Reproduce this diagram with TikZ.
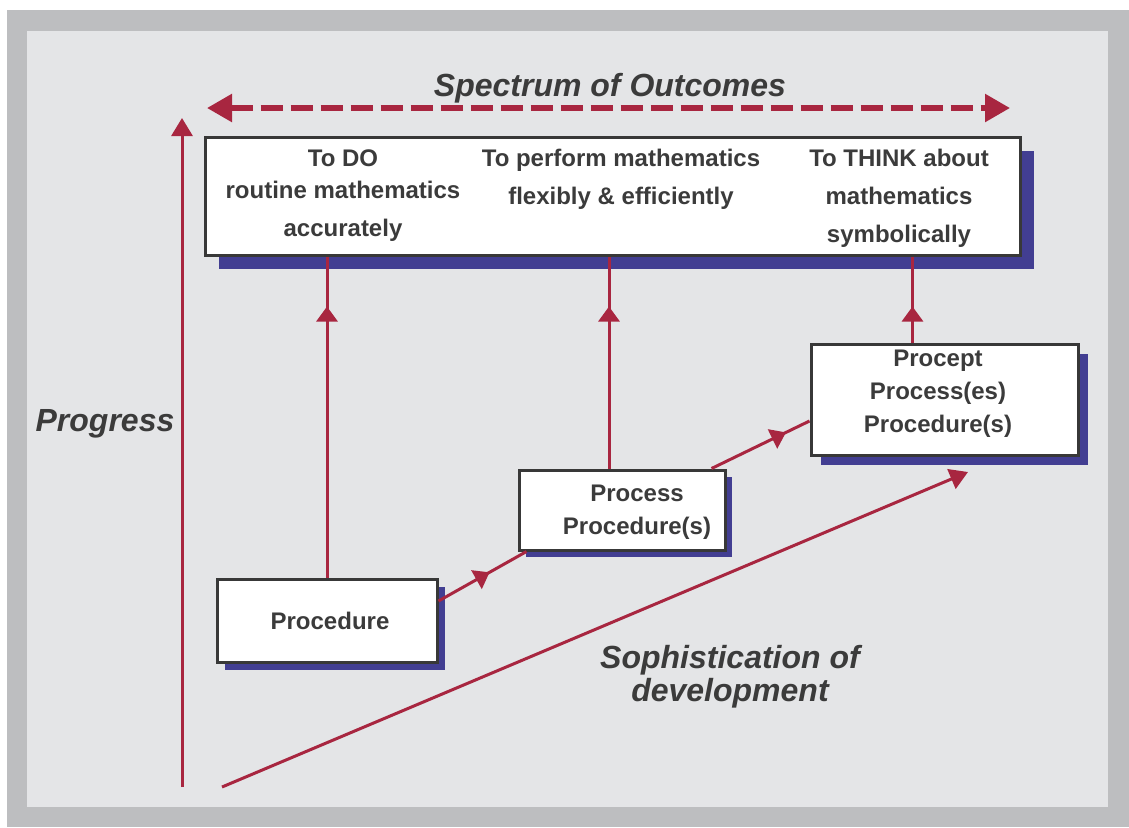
\documentclass[tikz,border=0pt]{standalone}
\usepackage{fontspec}
\setmainfont{Liberation Sans}
\usepackage{tikz}
\usetikzlibrary{arrows.meta, decorations.markings, shadows}
\definecolor{panelouter}{RGB}{189, 190, 192}
\definecolor{panelinner}{RGB}{228, 229, 231}
\definecolor{flowred}{RGB}{168, 38, 64}
\definecolor{shadowblue}{RGB}{66, 62, 146}
\definecolor{boxedge}{RGB}{56, 56, 56}
\definecolor{labelgray}{RGB}{59, 59, 59}

\tikzset{
	stagebox/.style={draw=boxedge, line width=1.5pt, fill=white, inner sep=0pt,
		general shadow={fill=shadowblue, shadow xshift=#1, shadow yshift=-#1}},
	stagebox/.default=4pt,
	stagetext/.style={inner sep=0pt, align=center, text=labelgray,
		font=\fontsize{12}{16.5}\selectfont\bfseries},
	outcometext/.style={anchor=north, inner sep=0pt, align=center, text=labelgray,
		font=\fontsize{12}{19}\selectfont\bfseries},
	axislabel/.style={inner sep=0pt, align=center, text=labelgray,
		font=\fontsize{16}{16.5}\selectfont\bfseries\itshape},
	flow/.style={draw=flowred, line width=1.5pt},
	midtip/.style={postaction={decorate}, decoration={markings,
		mark=at position #1 with {\arrow{Triangle[length=7.5pt, width=10.5pt]}}}},
}

\begin{document}
\begin{tikzpicture}[x=0.5pt, y=-0.5pt]
	\def\W{1129}
	\def\H{827}
	
	% panel
	\useasboundingbox (0,0) rectangle (\W,\H);
	\fill[white] (0,0) rectangle (\W,\H);
	\fill[panelouter] (7,10) rectangle (\W,\H);
	\fill[panelinner] (27,31) rectangle (1108,807);
	
	% outcomes box and its three columns
	\node[stagebox=7pt, minimum width=407.5pt, minimum height=59pt] (outcomes) at (612.5,196) {};
	\node[outcometext] (doText) at (343,149) {To DO\\[-3pt]routine mathematics\\accurately};
	\node[outcometext] (performText) at (621,149) {To perform mathematics\\flexibly \& efficiently};
	\node[outcometext] (thinkText) at (899,149) {To THINK about\\mathematics\\symbolically};
	
	% stages
	\node[stagebox, minimum width=110pt, minimum height=41.5pt] (procedure) at (327,620.5) {};
	\node[stagebox=3.5pt, minimum width=103pt, minimum height=40pt] (process) at (622,510) {};
	\node[stagebox=5pt, minimum width=133.5pt, minimum height=55.5pt] (procept) at (944.5,399.5) {};
	\node[stagetext] (procedureText) at (330,621) {Procedure};
	\node[stagetext] (processText) at (637,512) {Process\\Procedure(s)};
	\node[stagetext] (proceptText) at (938,394) {Procept\\Process(es)\\Procedure(s)};
	
	% links up to the outcomes
	\draw[flow, midtip=-25pt] (procedure.north) -- (procedure.north |- outcomes.south);
	\draw[flow, midtip=-25pt] ([xshift=-6.5pt]process.north) -- ([xshift=-6.5pt]process.north |- outcomes.south);
	\draw[flow, midtip=-25pt] ([xshift=-16pt]procept.north) -- ([xshift=-16pt]procept.north |- outcomes.south);
	
	% links between stages
	\draw[flow, midtip=0.58] ([yshift=9.75pt]procedure.east) -- ([xshift=4.5pt]process.south west);
	\draw[flow, midtip=0.76] ([xshift=-7.5pt]process.north east) -- ([yshift=-10.75pt]procept.west);
	
	% axes
	\coordinate (progFoot) at (182,787);
	\coordinate (progTip) at (182,118);
	\coordinate (devFoot) at (222,787);
	\coordinate (devTip) at (968,472);
	\coordinate (specLeft) at (207,108);
	\coordinate (specRight) at (1010,108);
	\draw[flow, -{Triangle[length=9pt, width=10.5pt]}] (progFoot) -- (progTip);
	\draw[flow, -{Triangle[length=9pt, width=10.5pt]}] (devFoot) -- (devTip);
	\draw[flow, line width=2.75pt, dash pattern=on 11pt off 4pt,
		{Triangle[length=12.5pt, width=13.5pt]}-{Triangle[length=12.5pt, width=13.5pt]}] (specLeft) -- (specRight);
	
	\node[axislabel] (spectrum) at (610,88) {Spectrum of Outcomes};
	\node[axislabel] (progress) at (105,424) {Progress};
	\node[axislabel] (sophistication) at (730,677) {Sophistication of\\development};
	
\end{tikzpicture}
\end{document}
